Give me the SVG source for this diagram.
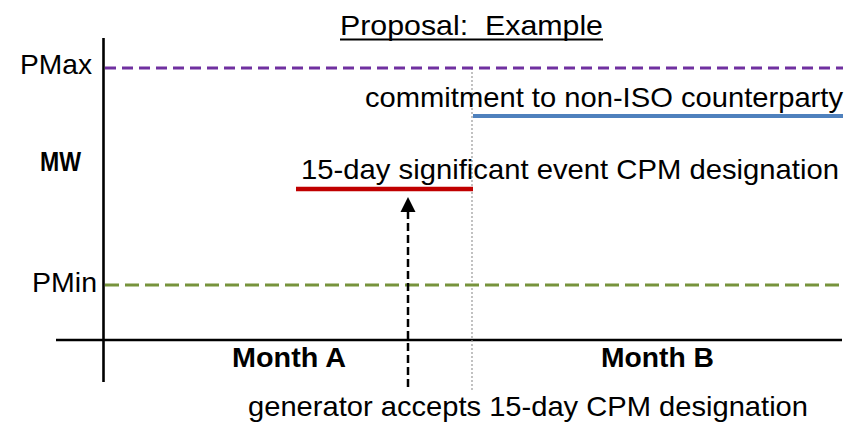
<svg xmlns="http://www.w3.org/2000/svg" width="852" height="424" viewBox="0 0 852 424">
  <style>
    text { font-family: "Liberation Sans", Arial, sans-serif; font-size: 28px; fill: #000; }
    .bold { font-weight: bold; }
    .axis { stroke: #000; stroke-width: 2.6; fill: none; }
    .dotted { stroke: #999; stroke-width: 1.2; stroke-dasharray: 2 2; fill: none; }
  </style>
  <rect width="852" height="424" fill="#fff"/>

  <g id="title">
    <text x="340" y="35" textLength="263" lengthAdjust="spacingAndGlyphs">Proposal:&#160; Example</text>
    <line x1="340" y1="39.5" x2="603" y2="39.5" stroke="#000" stroke-width="2"/>
  </g>

  <g id="axes">
    <line class="axis" x1="103.5" y1="38" x2="103.5" y2="382"/>
    <line class="axis" x1="56" y1="340" x2="842" y2="340" stroke-width="3"/>
    <line class="dotted" x1="472" y1="68" x2="472" y2="391"/>
  </g>

  <g id="pmax">
    <line x1="105" y1="68" x2="843" y2="68" stroke="#7030A0" stroke-width="3" stroke-dasharray="11 6"/>
    <text x="20" y="74" textLength="72" lengthAdjust="spacingAndGlyphs">PMax</text>
  </g>

  <g id="pmin">
    <line x1="105" y1="285" x2="843" y2="285" stroke="#77933C" stroke-width="3" stroke-dasharray="14 6"/>
    <text x="32" y="292" textLength="65" lengthAdjust="spacingAndGlyphs">PMin</text>
  </g>

  <g id="mw">
    <text class="bold" x="40" y="171" textLength="41" lengthAdjust="spacingAndGlyphs">MW</text>
  </g>

  <g id="commitment">
    <text x="365" y="107" textLength="478" lengthAdjust="spacingAndGlyphs">commitment to non-ISO counterparty</text>
    <line x1="473" y1="116" x2="843" y2="116" stroke="#4F81BD" stroke-width="4"/>
  </g>

  <g id="cpm-designation">
    <text x="301" y="179" textLength="538" lengthAdjust="spacingAndGlyphs">15-day significant event CPM designation</text>
    <line x1="296" y1="189" x2="473" y2="189" stroke="#C00000" stroke-width="4.5"/>
  </g>

  <g id="month-a">
    <text class="bold" x="232" y="367" textLength="114" lengthAdjust="spacingAndGlyphs">Month A</text>
  </g>

  <g id="month-b">
    <text class="bold" x="601" y="367" textLength="113" lengthAdjust="spacingAndGlyphs">Month B</text>
  </g>

  <g id="generator">
    <text x="248" y="416" textLength="560" lengthAdjust="spacingAndGlyphs">generator accepts 15-day CPM designation</text>
  </g>

  <g id="connectors">
    <line x1="408" y1="387" x2="408" y2="211" stroke="#000" stroke-width="2.5" stroke-dasharray="8 4"/>
    <polygon points="408,197 400.5,212 415.5,212" fill="#000"/>
  </g>
</svg>
